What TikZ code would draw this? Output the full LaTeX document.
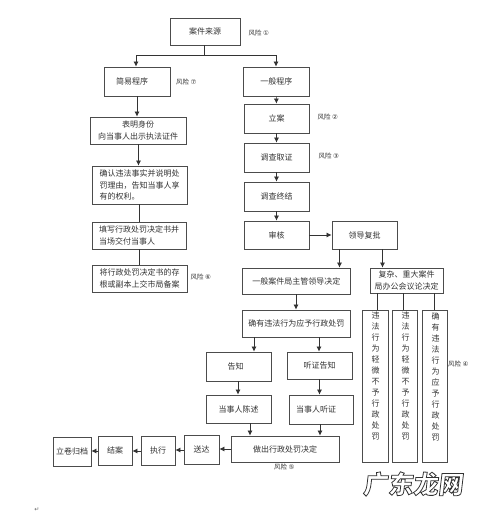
\documentclass[tikz,border=0pt]{standalone}
\usepackage{fontspec}
\setmainfont{Noto Sans CJK SC}
\newfontfamily\symf{DejaVu Sans}
\usetikzlibrary{arrows.meta}
\tikzset{
  box/.style={draw=black!70,line width=0.8pt,fill=white,inner sep=0pt,align=center,font=\fontsize{8}{11.5}\selectfont,text=black!80},
  flow/.style={draw=black!80,line width=0.7pt},
  arr/.style={flow,-{Latex[length=5pt,width=5pt]}},
  risk/.style={font=\fontsize{6.5}{7}\selectfont,text=black!80,inner sep=0pt,anchor=west},
  vtext/.style={font=\fontsize{8}{11}\selectfont,text=black!80,inner sep=0pt,align=center,anchor=north},
}
\begin{document}
\begin{tikzpicture}[x=1pt,y=-1pt]
\useasboundingbox (0,0) rectangle (500,513);
\fill[white] (0,0) rectangle (500,513);
\def\BB#1#2#3#4#5#6{\pgfmathsetmacro\wid{#4-#3}\pgfmathsetmacro\hei{#6-#5}\node[box,minimum width=\wid pt,minimum height=\hei pt] (#1) at ({(#3+#4)/2},{(#5+#6)/2}) {#2};}
\BB{src}{案件来源}{170}{240}{18}{45}
\BB{simple}{\hspace*{-10pt}简易程序}{104}{170}{67}{96}
\BB{gen}{一般程序}{243.5}{309}{67}{96}
\BB{li}{立案}{244}{309}{104}{133}
\BB{dc}{调查取证}{244}{309}{143}{172}
\BB{zj}{调查终结}{244}{309}{182}{211}
\BB{sh}{审核}{244}{309}{221}{249}
\BB{ld}{领导复批}{332}{397}{221}{249}
\BB{bm}{表明身份\\向当事人出示执法证件}{90}{186}{117}{144}
\BB{qr}{\parbox{80pt}{确认违法事实并说明处\\罚理由，告知当事人享\\有的权利。}}{92}{187}{166}{204}
\BB{tx}{\parbox{80pt}{填写行政处罚决定书并\\当场交付当事人}}{92}{186}{222}{249}
\BB{jx}{将行政处罚决定书的存\\根或副本上交市局备案}{92}{187}{265}{292}
\BB{yb}{一般案件局主管领导决定}{242.5}{350}{268}{294}
\BB{qy}{确有违法行为应予行政处罚}{242.5}{350}{310}{337}
\BB{gz}{\hspace*{-6pt}告知}{206}{271}{352}{381}
\BB{tz}{听证告知}{287}{352}{352}{379}
\BB{cs}{当事人陈述}{206}{271}{395}{423}
\BB{tzh}{\hspace*{-10pt}当事人听证}{289}{353}{395}{424}
\BB{zc}{做出行政处罚决定}{231}{339}{436}{462}
\BB{sd}{送达}{184}{219}{435}{464}
\BB{zx}{执行}{141}{175}{436}{465}
\BB{ja}{结案}{98}{132}{436}{465}
\BB{lj}{立卷归档}{53}{91}{437}{466}
\BB{fz}{复杂、重大案件\\局办公会议论决定}{370}{443}{268}{293}
\BB{v1}{}{362.5}{388}{310}{462}
\BB{v2}{}{392.5}{417.5}{310}{462}
\BB{v3}{}{422}{447.5}{310}{462}
\node[vtext] (t1) at (375.5,312) {违\\法\\行\\为\\轻\\微\\不\\予\\行\\政\\处\\罚};
\node[vtext] (t2) at (405.5,312) {违\\法\\行\\为\\轻\\微\\不\\予\\行\\政\\处\\罚};
\node[vtext] (t3) at (435.5,313) {确\\有\\违\\法\\行\\为\\应\\予\\行\\政\\处\\罚};
% connectors
\coordinate (j1) at (204.5,55);
\draw[flow] (src.south -| j1) -- (j1);
\draw[arr] (j1) -| (simple.north -| 136,0);
\draw[arr] (j1) -| (gen.north -| 276,0);
\draw[arr] (simple.south -| 137,0) -- (bm.north -| 137,0);
\draw[arr] (bm.south -| 138.5,0) -- (qr.north -| 138.5,0);
\draw[flow] (qr.south -| 139.5,0) -- (tx.north -| 139.5,0);
\draw[flow] (tx.south -| 139.5,0) -- (jx.north -| 139.5,0);
\draw[arr] (gen) -- (li);
\draw[arr] (li) -- (dc);
\draw[arr] (dc) -- (zj);
\draw[arr] (zj) -- (sh);
\draw[arr] (sh) -- (ld);
\draw[arr] (ld.south -| 339.5,0) -- (yb.north -| 339.5,0);
\draw[arr] (ld.south -| 382.5,0) -- (fz.north -| 382.5,0);
\draw[arr] (yb.south -| 296,0) -- (qy.north -| 296,0);
\draw[arr] (qy.south -| 254,0) -- (gz.north -| 254,0);
\draw[arr] (qy.south -| 319,0) -- (tz.north -| 319,0);
\draw[arr] (gz.south -| 238,0) -- (cs.north -| 238,0);
\draw[arr] (tz) -- (tzh.north -| tz);
\draw[arr] (cs.south -| 250,0) -- (zc.north -| 250,0);
\draw[arr] (tzh.south -| 320,0) -- (zc.north -| 320,0);
\draw[arr] (zc.west |- 0,449) -- (sd.east |- 0,449);
\draw[arr] (sd.west |- 0,450) -- (zx.east |- 0,450);
\draw[arr] (zx.west |- 0,451) -- (ja.east |- 0,451);
\draw[arr] (ja.west |- 0,451) -- (lj.east |- 0,451);
\draw[flow] (fz.south -| 377,0) -- (v1.north -| 377,0);
\draw[flow] (fz.south -| 403.5,0) -- (v2.north -| 403.5,0);
\draw[flow] (fz.south -| 434,0) -- (v3.north -| 434,0);
% risk labels
\node[risk] (r1) at (248.5,33) {风险 {\symf ①}};
\node[risk] (r7) at (176,82) {风险 {\symf ⑦}};
\node[risk] (r2) at (317.5,117.5) {风险 {\symf ②}};
\node[risk] (r3) at (318.5,156) {风险 {\symf ③}};
\node[risk] (r6) at (190.5,277) {风险 {\symf ⑥}};
\node[risk] (r4) at (448,364.5) {风险 {\symf ④}};
\node[risk] (r5) at (274,467.5) {风险 {\symf ⑤}};
\node[font=\symf\fontsize{6}{6}\selectfont,text=black!60,inner sep=0pt] (ret) at (37,510) {↵};
% watermark: one text, white fill with a dark stroke
\node[font=\fontsize{25}{25}\selectfont\bfseries,text=white,inner sep=0pt,xslant=0.12] (wm) at (414,484) {\special{pdf:code 2 Tr 0.8 w 0.2 G}广东龙网\special{pdf:code 0 Tr}};
\end{tikzpicture}
\end{document}
